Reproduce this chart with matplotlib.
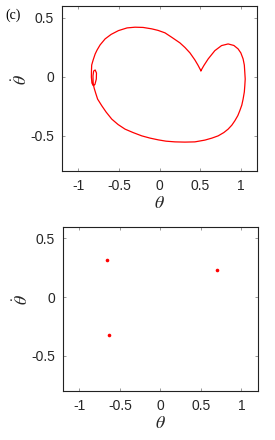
import matplotlib
matplotlib.use("Agg")
import matplotlib.pyplot as plt

plt.rcParams['font.family'] = ['Liberation Sans', 'DejaVu Sans']
plt.rcParams['mathtext.fontset'] = 'stix'

# phase trajectory (theta, theta_dot)
theta = [0.511, 0.474, 0.437, 0.376, 0.314, 0.252, 0.154, 0.068, -0.018,
         -0.096, -0.203, -0.302, -0.400, -0.507, -0.597, -0.671, -0.733,
         -0.770, -0.794, -0.819, -0.837,
         # small loop
         -0.840, -0.841, -0.834, -0.819, -0.797, -0.780, -0.778, -0.794,
         -0.813, -0.821, -0.819, -0.807, -0.788,
         # lower arc
         -0.764, -0.712, -0.659, -0.589, -0.511, -0.425, -0.326, -0.219,
         -0.117, -0.015, 0.080, 0.191, 0.314, 0.437, 0.560, 0.647, 0.724,
         0.794, 0.847, 0.893, 0.930, 0.967, 0.991, 1.016, 1.032, 1.047,
         1.053, 1.058, 1.053, 1.047, 1.032, 1.004, 0.970, 0.918, 0.847,
         0.766, 0.683, 0.601, 0.548, 0.511]
theta_dot = [0.051, 0.099, 0.142, 0.202, 0.248, 0.287, 0.333, 0.372, 0.393,
             0.406, 0.418, 0.420, 0.414, 0.391, 0.359, 0.321, 0.270,
             0.227, 0.193, 0.142, 0.099,
             0.048, -0.003, -0.054, -0.075, -0.066, -0.020, 0.031, 0.057,
             0.048, 0.006, -0.054, -0.096, -0.139,
             -0.190, -0.247, -0.300, -0.360, -0.406, -0.445, -0.474, -0.502,
             -0.521, -0.536, -0.547, -0.553, -0.555, -0.553, -0.538, -0.521,
             -0.502, -0.474, -0.445, -0.411, -0.374, -0.330, -0.289, -0.241,
             -0.190, -0.130, -0.077, -0.020, 0.037, 0.099, 0.151, 0.202,
             0.236, 0.265, 0.278, 0.264, 0.221, 0.151, 0.095, 0.051]

# Poincare section points
sec_theta = [-0.655, -0.63, 0.696]
sec_theta_dot = [0.315, -0.326, 0.23]

xticks = [-1, -0.5, 0, 0.5, 1]
xticklabels = ['-1', '-0.5', '0', '0.5', '1']
yticks = [-0.5, 0, 0.5]
yticklabels = ['-0.5', '0', '0.5']

fig = plt.figure(figsize=(2.75, 4.4), dpi=100)
ax1 = fig.add_axes([0.2265, 0.6114, 0.707, 0.375])
ax2 = fig.add_axes([0.230, 0.1114, 0.707, 0.3734])

ax1.plot(theta, theta_dot, color='red', lw=0.9)
ax2.plot(sec_theta, sec_theta_dot, 'o', color='red', ms=2.6, mec='none')

for ax in (ax1, ax2):
    ax.set_xlim(-1.2, 1.2)
    ax.set_ylim(-0.8, 0.6)
    ax.set_xticks(xticks)
    ax.set_xticklabels(xticklabels)
    ax.set_yticks(yticks)
    ax.set_yticklabels(yticklabels)
    ax.tick_params(direction='in', top=True, right=True, length=2,
                   width=0.6, labelsize=10, pad=6, color='#888888',
                   labelcolor='#262626')
    for s in ax.spines.values():
        s.set_linewidth(0.8)
        s.set_color('#222222')
    ax.set_xlabel(r'$\theta$', fontsize=13, va='center', color='#262626')
    ax.set_ylabel(r'$\dot{\theta}$', fontsize=13, va='center', color='#262626')
    ax.xaxis.set_label_coords(0.5, -0.2)
    ax.yaxis.set_label_coords(-0.21, 0.555)

fig.text(0.018, 0.958, '(c)', fontsize=10, family='Liberation Serif')

fig.savefig('out.png', dpi=100)
